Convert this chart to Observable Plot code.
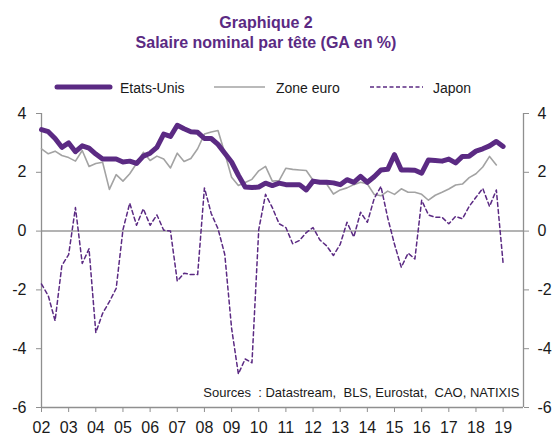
<!DOCTYPE html>
<html>
<head>
<meta charset="utf-8">
<script src="https://cdn.jsdelivr.net/npm/d3@7"></script>
<script src="https://cdn.jsdelivr.net/npm/@observablehq/plot@0.6"></script>
<style>
  body { margin: 0; background: #fff; font-family: "Liberation Sans", Arial, sans-serif; }
  #wrap { position: relative; width: 553px; height: 435px; overflow: hidden; background: #fff; }
  #header { position: absolute; left: 0; top: 0; }
  #chart { position: absolute; left: 0; top: 100px; }
  #chart text { white-space: pre; }
</style>
</head>
<body>
<div id="wrap">
  <svg id="header" width="553" height="100"></svg>
  <div id="chart"></div>
</div>
<script>
// ---- data (quarterly, starting 2002 Q1) ----
const startYear = 2002;
const yearTicks = [2002, 2003, 2004, 2005, 2006, 2007, 2008, 2009, 2010, 2011, 2012, 2013, 2014, 2015, 2016, 2017, 2018, 2019];
const yTicks = [-6, -4, -2, 0, 2, 4];
const seriesNames = ["Etats-Unis", "Zone euro", "Japon"];

const etatsUnis = [3.45, 3.38, 3.15, 2.85, 3.0, 2.7, 2.9, 2.82, 2.62, 2.45, 2.45, 2.45, 2.35, 2.38, 2.3,
  2.55, 2.65, 2.85, 3.3, 3.22, 3.6, 3.48, 3.38, 3.36, 3.15, 3.15, 2.95, 2.65, 2.35, 1.9,
  1.5, 1.48, 1.5, 1.63, 1.55, 1.63, 1.58, 1.58, 1.58, 1.4, 1.7, 1.66, 1.66, 1.64, 1.58,
  1.75, 1.66, 1.86, 1.66, 1.85, 2.08, 2.1, 2.6, 2.08, 2.08, 2.07, 1.97, 2.42, 2.4, 2.38,
  2.45, 2.32, 2.54, 2.55, 2.72, 2.8, 2.9, 3.05, 2.88];

const zoneEuro = [2.8, 2.63, 2.72, 2.57, 2.5, 2.38, 2.74, 2.2, 2.3, 2.34, 1.42, 1.92, 1.7, 1.95, 2.3,
  2.68, 2.4, 2.55, 2.45, 2.15, 2.65, 2.37, 2.47, 2.8, 3.3, 3.37, 3.42, 2.65, 1.83, 1.55,
  1.65, 1.76, 2.05, 2.2, 1.7, 1.72, 2.14, 2.1, 2.08, 2.06, 1.73, 1.63, 1.6, 1.26, 1.4,
  1.47, 1.58, 1.66, 1.6, 1.25, 1.2, 1.36, 1.25, 1.44, 1.32, 1.32, 1.25, 1.05, 1.22, 1.32,
  1.43, 1.57, 1.6, 1.82, 1.95, 2.18, 2.54, 2.25];

const japon = [-1.8, -2.2, -3.05, -1.17, -0.8, 0.8, -1.1, -0.6, -3.45, -2.8, -2.4, -1.95, 0.05, 0.95, 0.2,
  0.76, 0.2, 0.55, 0.03, 0.0, -1.7, -1.43, -1.48, -1.48, 1.47, 0.6, 0.08, -0.8, -3.3, -4.86,
  -4.35, -4.48, 0.05, 1.25, 0.8, 0.25, 0.12, -0.43, -0.32, -0.05, 0.12, -0.3, -0.5, -0.83, -0.45,
  0.3, -0.2, 0.64, 0.3, 1.1, 1.52, 0.45, -0.45, -1.23, -0.75, -0.95, 1.05, 0.55, 0.47, 0.47,
  0.25, 0.5, 0.42, 0.84, 1.15, 1.45, 0.84, 1.4, -1.1];

const sourcesText = "Sources  : Datastream,  BLS, Eurostat,  CAO, NATIXIS";
const titleLines = ["Graphique 2", "Salaire nominal par tête (GA en %)"];

// ---- styles ----
const purple = "#5b2a83";
const grey = "#a3a3a3";
const axisGrey = "#8f8f8f";
const font = "'Liberation Sans', Arial, sans-serif";

const quarterX = i => startYear + i / 4;

// ---- header: title + legend ----
const header = d3.select("#header");
header.selectAll("text.title").data(titleLines).join("text")
  .attr("class", "title")
  .attr("x", 266).attr("y", (d, i) => 28 + i * 20)
  .attr("text-anchor", "middle")
  .attr("font-family", font).attr("font-weight", "bold").attr("font-size", 16)
  .attr("fill", purple).text(d => d);

const legendItems = [
  {name: seriesNames[0], x1: 57, x2: 110, tx: 120, stroke: purple, w: 5, dash: null},
  {name: seriesNames[1], x1: 214, x2: 265, tx: 276, stroke: grey, w: 1.5, dash: null},
  {name: seriesNames[2], x1: 370, x2: 423, tx: 433, stroke: purple, w: 1.5, dash: "4,2.5"}
];
const lg = header.selectAll("g.lg").data(legendItems).join("g").attr("class", "lg");
lg.append("line").attr("x1", d => d.x1).attr("x2", d => d.x2).attr("y1", 87).attr("y2", 87)
  .attr("stroke", d => d.stroke).attr("stroke-width", d => d.w)
  .attr("stroke-linecap", d => d.w > 3 ? "round" : "butt")
  .attr("stroke-dasharray", d => d.dash);
lg.append("text").attr("x", d => d.tx).attr("y", 92.5)
  .attr("font-family", font).attr("font-size", 14).attr("fill", "#1a1a1a").text(d => d.name);

// ---- chart ----
const xMax = 2019.75;
const chart = Plot.plot({
  width: 553,
  height: 335,
  marginLeft: 41,
  marginRight: 30,
  marginTop: 13,
  marginBottom: 28,
  style: {fontFamily: font, fontSize: "16px", background: "transparent", overflow: "visible"},
  x: {domain: [startYear, xMax]},
  y: {domain: [-6, 4]},
  marks: [
    Plot.ruleY([0], {x1: startYear, x2: xMax, stroke: "#9a9a9a", strokeWidth: 1.5}),
    Plot.ruleX([startYear, xMax], {y1: -6, y2: 4, stroke: axisGrey, strokeWidth: 1.3}),
    Plot.ruleY([-6], {x1: startYear, x2: xMax, stroke: axisGrey, strokeWidth: 1.3}),
    Plot.axisY({anchor: "left", ticks: yTicks, tickSize: 5, tickPadding: 10, stroke: axisGrey, fill: "#1a1a1a", fontSize: 16, tickFormat: d => String(d)}),
    Plot.axisY({anchor: "right", ticks: yTicks, tickSize: 5, tickPadding: 9, stroke: axisGrey, fill: "#1a1a1a", fontSize: 16, tickFormat: d => String(d)}),
    Plot.axisX({ticks: yearTicks, tickSize: 5, tickPadding: 9, stroke: axisGrey, fill: "#1a1a1a", fontSize: 16, tickFormat: d => String(d).slice(2)}),
    Plot.lineY(zoneEuro, {x: (d, i) => quarterX(i), y: d => d, stroke: grey, strokeWidth: 1.6}),
    Plot.lineY(japon, {x: (d, i) => quarterX(i), y: d => d, stroke: purple, strokeWidth: 1.5, strokeDasharray: "4,3"}),
    Plot.lineY(etatsUnis, {x: (d, i) => quarterX(i), y: d => d, stroke: purple, strokeWidth: 5, strokeLinejoin: "round", strokeLinecap: "round"}),
    Plot.text([sourcesText], {frameAnchor: "bottom-right", dx: -4, dy: -11, lineAnchor: "bottom", textAnchor: "end", fontSize: 13, fill: "#1a1a1a"})
  ]
});
document.getElementById("chart").appendChild(chart);
</script>
</body>
</html>
